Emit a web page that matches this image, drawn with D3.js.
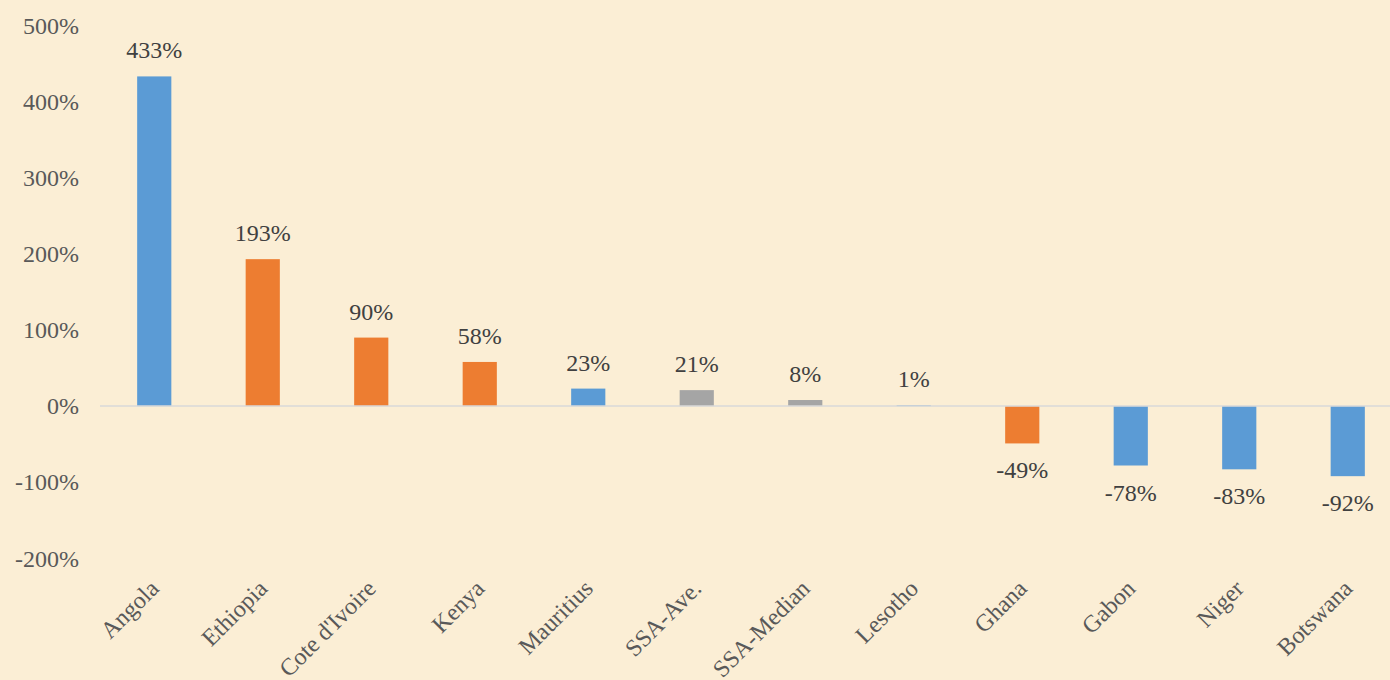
<!DOCTYPE html>
<html lang="en">
<head>
<meta charset="utf-8">
<title>Change by country</title>
<script src="https://cdn.jsdelivr.net/npm/d3@7"></script>
<style>
  html, body { margin: 0; padding: 0; background: #fbeed5; }
  svg text { font-family: "Liberation Serif", "Times New Roman", serif; }
</style>
</head>
<body>
<script>
// data
var countries = ["Angola", "Ethiopia", "Cote d'Ivoire", "Kenya", "Mauritius", "SSA-Ave.",
                 "SSA-Median", "Lesotho", "Ghana", "Gabon", "Niger", "Botswana"];
var changes = [4.33, 1.93, 0.90, 0.58, 0.23, 0.21, 0.08, 0.01, -0.49, -0.78, -0.83, -0.92];
var groups = ["blue", "orange", "orange", "orange", "blue", "grey",
              "grey", "blue", "orange", "blue", "blue", "blue"];
var yTicks = [-2, -1, 0, 1, 2, 3, 4, 5];

var w = 1390, h = 680;
var colors = { blue: "#5b9bd5", orange: "#ed7d31", grey: "#a5a5a5" };
var fontSize = 24;

var svg = d3.select("body").append("svg")
    .attr("width", w)
    .attr("height", h)
    .style("display", "block");

svg.append("rect").attr("width", w).attr("height", h).attr("fill", "#fbeed5");

var x = d3.scaleBand()
    .domain(countries)
    .range([100, 1402])
    .paddingInner(0.685)
    .paddingOuter(0.3425);

var y = d3.scaleLinear()
    .domain([-2, 5])
    .range([558.4, 25.4]);

// hyphen minus, like the original
var fmt = function(v) { return Math.round(v * 100) + "%"; };

// y axis labels
var yAxis = d3.axisLeft(y)
    .tickValues(yTicks)
    .tickFormat(fmt)
    .tickSize(0)
    .tickPadding(0);

svg.append("g")
    .attr("transform", "translate(79,0)")
    .call(yAxis)
    .call(function(g) {
      g.attr("font-family", null).attr("font-size", null);
      g.select(".domain").remove();
      g.selectAll("text")
        .attr("font-size", fontSize)
        .attr("fill", "#595959");
    });

// bars
svg.selectAll("rect.bar")
    .data(countries)
    .enter()
    .append("rect")
    .attr("class", "bar")
    .attr("x", function(d) { return x(d); })
    .attr("width", x.bandwidth())
    .attr("y", function(d, i) { return y(Math.max(0, changes[i])); })
    .attr("height", function(d, i) { return Math.abs(y(changes[i]) - y(0)); })
    .attr("fill", function(d, i) { return colors[groups[i]]; });

// zero line
svg.append("line")
    .attr("x1", 100).attr("x2", w)
    .attr("y1", y(0)).attr("y2", y(0))
    .attr("stroke", "#d9d9d9")
    .attr("stroke-width", 1.5);

// value labels
svg.selectAll("text.val")
    .data(countries)
    .enter()
    .append("text")
    .attr("class", "val")
    .attr("x", function(d) { return x(d) + x.bandwidth() / 2; })
    .attr("y", function(d, i) {
      return changes[i] >= 0 ? y(changes[i]) - 18 : y(changes[i]) + 35;
    })
    .attr("text-anchor", "middle")
    .attr("font-size", fontSize)
    .attr("fill", "#404040")
    .text(function(d, i) { return fmt(changes[i]); });

// category labels
svg.selectAll("text.cat")
    .data(countries)
    .enter()
    .append("text")
    .attr("class", "cat")
    .attr("transform", function(d) {
      return "translate(" + (x(d) + x.bandwidth() / 2 + 6) + ",590) rotate(-45)";
    })
    .attr("text-anchor", "end")
    .attr("font-size", fontSize)
    .attr("fill", "#595959")
    .text(function(d) { return d; });
</script>
</body>
</html>
